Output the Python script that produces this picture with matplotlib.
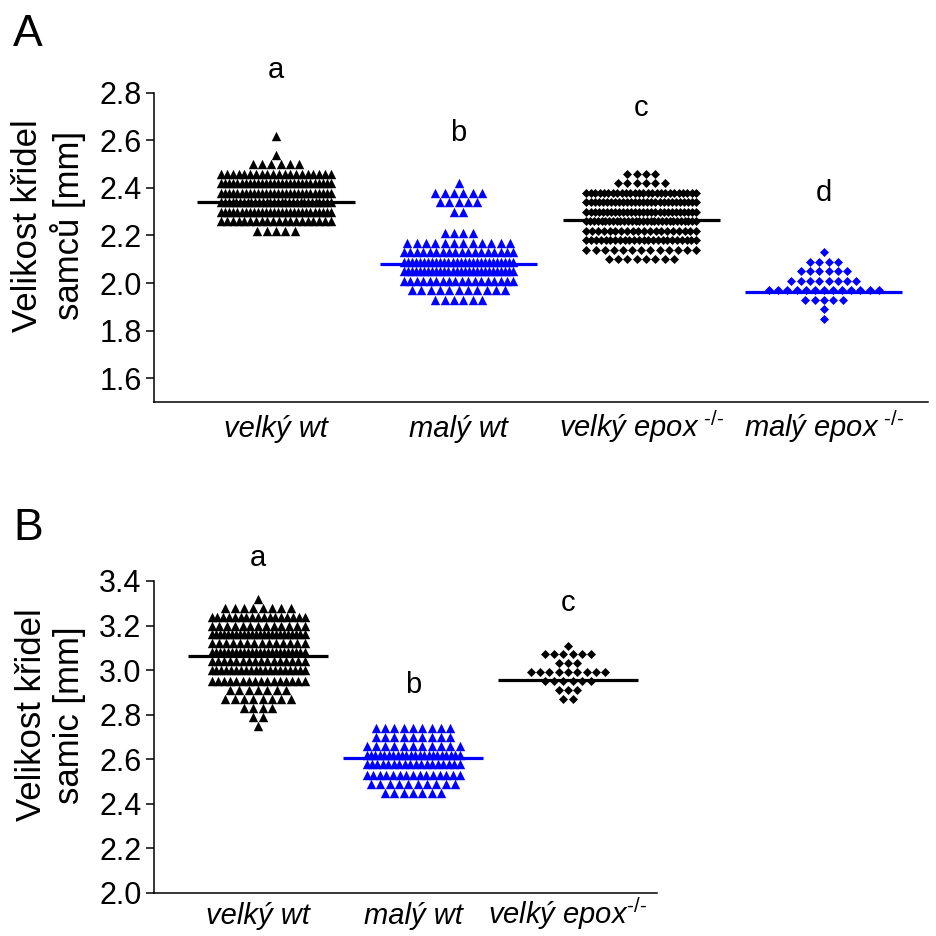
import numpy as np
import matplotlib
matplotlib.use('Agg')
import matplotlib.pyplot as plt

plt.rcParams['font.family'] = ['Liberation Sans', 'DejaVu Sans']
plt.rcParams['mathtext.fontset'] = 'custom'
plt.rcParams['mathtext.it'] = 'Liberation Sans:italic'
plt.rcParams['mathtext.rm'] = 'Liberation Sans'
plt.rcParams['mathtext.default'] = 'it'

# --- males (panel A): wing size levels [mm] and number of flies at each level
a_labels = ['velký wt', 'malý wt', 'velký epo$x^{\\ \u2010/\u2010}$', 'malý epo$x^{\\ \u2010/\u2010}$']
a1_levels = [2.62, 2.54, 2.50, 2.46, 2.42, 2.38, 2.34, 2.30, 2.26, 2.22]
a1_counts = [1, 1, 6, 20, 28, 28, 30, 28, 20, 5]
a2_levels = [2.42, 2.38, 2.34, 2.30, 2.21, 2.17, 2.13, 2.09, 2.05, 2.01, 1.97, 1.93]
a2_counts = [1, 6, 5, 2, 4, 12, 18, 28, 28, 18, 11, 6]
a3_levels = [2.46, 2.42, 2.38, 2.34, 2.30, 2.26, 2.22, 2.18, 2.14, 2.10]
a3_counts = [4, 6, 26, 28, 28, 30, 20, 24, 13, 8]
a4_levels = [2.13, 2.09, 2.05, 2.01, 1.97, 1.93, 1.89, 1.85]
a4_counts = [1, 4, 6, 8, 13, 5, 1, 1]
a_means = [2.340, 2.079, 2.264, 1.961]
a_letters = ['a', 'b', 'c', 'd']
a_letter_y = [2.895, 2.631, 2.736, 2.379]

# --- females (panel B)
b_labels = ['velký wt', 'malý wt', 'velký epo$x^{\u2010/\u2010}$']
b1_levels = [3.32, 3.28, 3.24, 3.20, 3.16, 3.12, 3.08, 3.04, 3.00, 2.95,
             2.91, 2.87, 2.83, 2.79, 2.75]
b1_counts = [1, 8, 17, 13, 24, 14, 24, 16, 20, 16, 7, 8, 4, 2, 1]
b2_levels = [2.74, 2.70, 2.66, 2.62, 2.58, 2.53, 2.49, 2.45]
b2_counts = [9, 9, 11, 22, 18, 15, 10, 7]
b3_levels = [3.11, 3.07, 3.03, 2.99, 2.95, 2.91, 2.87]
b3_counts = [1, 6, 3, 9, 6, 3, 2]
b_means = [3.064, 2.606, 2.955]
b_letters = ['a', 'b', 'c']
b_letter_y = [3.503, 2.933, 3.301]

BLUE = '#0000ff'


def row_offsets(n, step, half):
    # spread n points of one row, squeezing them when the row gets too wide
    if n == 1:
        return np.zeros(1)
    w = min((n - 1) * step, 2 * half)
    return np.linspace(-w / 2, w / 2, n)


def draw_group(ax, pos, levels, counts, marker, color, size, step, half):
    xs, ys = [], []
    for lv, c in zip(levels, counts):
        xs.extend(pos + row_offsets(c, step, half))
        ys.extend([lv] * c)
    ax.scatter(xs, ys, marker=marker, s=size, c=color, linewidths=0, zorder=2)


def style_axis(ax, labels, ylabel, ylim, yticks, xpad, label_x):
    for s in ['top', 'right']:
        ax.spines[s].set_visible(False)
    for s in ['left', 'bottom']:
        ax.spines[s].set_linewidth(1.1)
    ax.set_ylim(*ylim)
    ax.set_yticks(yticks)
    ax.set_yticklabels(['%.1f' % t for t in yticks])
    ax.tick_params(axis='y', length=6, width=1.1, labelsize=22, pad=3)
    ax.set_xticks(range(len(labels)))
    ax.set_xticklabels(labels, fontstyle='italic', fontsize=21)
    ax.tick_params(axis='x', length=0, pad=xpad)
    for t in ax.get_xticklabels():
        t.set_verticalalignment('baseline')
    ax.set_ylabel(ylabel, fontsize=25)
    ax.yaxis.set_label_coords(label_x, 0.571)


fig = plt.figure(figsize=(9.36, 9.36), dpi=100)

# panel A
axA = fig.add_axes([154 / 936, (936 - 402) / 936, (928 - 154) / 936, (402 - 92.7) / 936])
stepA, halfA, lineA = 0.051, 0.30, 0.43
groupsA = [(a1_levels, a1_counts, '^', 'black'),
           (a2_levels, a2_counts, '^', BLUE),
           (a3_levels, a3_counts, 'D', 'black'),
           (a4_levels, a4_counts, 'D', BLUE)]
for i, (lv, ct, mk, col) in enumerate(groupsA):
    size = 46 if mk == '^' else 21
    draw_group(axA, i, lv, ct, mk, col, size, stepA, halfA)
    axA.hlines(a_means[i], i - lineA, i + lineA, color=col, lw=2.3, zorder=3)
    axA.text(i, a_letter_y[i], a_letters[i], ha='center', va='center',
             fontsize=21, clip_on=False)
axA.set_xlim(-0.668, 3.57)
style_axis(axA, a_labels, 'Velikost křidel\nsamců [mm]', (1.5, 2.8),
           np.arange(1.6, 2.81, 0.2), 25, (86 - 154) / 774)

# panel B
axB = fig.add_axes([154 / 936, (936 - 892.7) / 936, (657 - 154) / 936, (892.7 - 581) / 936])
stepB, halfB, lineB = 0.06, 0.30, 0.45
groupsB = [(b1_levels, b1_counts, '^', 'black'),
           (b2_levels, b2_counts, '^', BLUE),
           (b3_levels, b3_counts, 'D', 'black')]
for i, (lv, ct, mk, col) in enumerate(groupsB):
    size = 46 if mk == '^' else 21
    draw_group(axB, i, lv, ct, mk, col, size, stepB, halfB)
    axB.hlines(b_means[i], i - lineB, i + lineB, color=col, lw=2.3, zorder=3)
    axB.text(i, b_letter_y[i], b_letters[i], ha='center', va='center',
             fontsize=21, clip_on=False)
axB.set_xlim(-0.671, 2.574)
style_axis(axB, b_labels, 'Velikost křidel\nsamic [mm]', (2.0, 3.4),
           np.arange(2.0, 3.41, 0.2), 22.5, (86 - 154) / 503)

fig.text(13 / 936, 1 - 34 / 936, 'A', fontsize=32, va='center')
fig.text(13 / 936, 1 - 529 / 936, 'B', fontsize=32, va='center')

fig.savefig('out.png', dpi=100)
